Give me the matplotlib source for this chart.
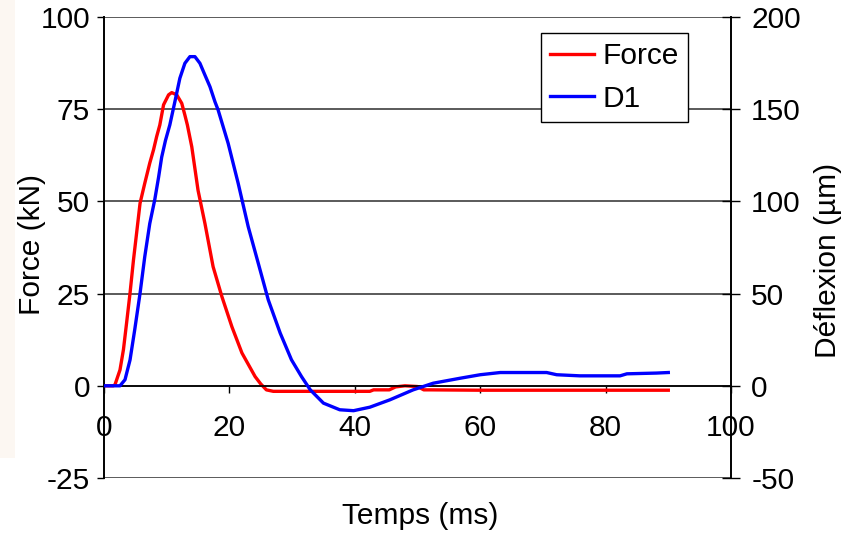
import matplotlib
matplotlib.use("Agg")
import matplotlib.pyplot as plt
from matplotlib.patches import Rectangle

plt.rcParams["font.family"] = ["Liberation Sans", "DejaVu Sans"]
plt.rcParams["axes.unicode_minus"] = False

# Force signal (kN) versus time (ms)
t_force = [0, 1.5, 1.75, 2.55, 3.1, 3.6, 4.15, 4.7, 5.2, 5.75, 6.5, 7.3, 7.9,
           8.4, 8.9, 9.5, 10.3, 10.8, 11.6, 12.4, 12.9, 13.3, 14.0, 15.0, 16.1,
           17.4, 18.8, 20.4, 22.0, 24.1, 25.0, 25.9, 27, 30, 35, 40, 42.4, 43,
           45.5, 46.5, 48, 50, 51, 52, 60, 70, 80, 90]
force = [0, 0, 0.3, 4.3, 9.8, 17, 25.1, 34.1, 41.4, 49.5, 54.9, 60.4, 64,
         67.6, 70.7, 76.2, 78.9, 79.5, 78.9, 76.6, 73.4, 70.7, 64.8, 53, 44,
         32.3, 24.2, 16, 8.9, 2.5, 0.5, -1.1, -1.5, -1.5, -1.5, -1.5, -1.5, -1.1,
         -1.1, -0.3, 0, -0.2, -1.1, -1.1, -1.2, -1.2, -1.2, -1.2]

# Deflection D1 (µm) versus time (ms)
t_defl = [0, 2.55, 3.35, 4.15, 4.9, 5.75, 6.5, 7.3, 8.1, 8.7, 9.2, 9.8, 10.5,
          11.3, 12.1, 12.9, 13.7, 14.5, 15.3, 16.1, 16.9, 17.7, 18.2, 19.8,
          21.4, 23.0, 24.6, 26.2, 28.1, 29.9, 31.5, 32.9, 35.0, 37.6, 39.8,
          42.4, 45.6, 49.3, 52.5, 56.8, 60.0, 63.2, 70.6, 72.2, 75.9, 82.3,
          83.4, 88.1, 90]
defl = [0, 0, 3.3, 14, 30.4, 50.2, 70, 88, 101, 113, 124, 133, 141.5,
        154, 166.8, 174.9, 178.5, 178.5, 174.9, 168.5, 162.2, 154, 149.6, 131.5,
        109.8, 86.3, 66.5, 46.6, 28.6, 14.1, 5, -2.2, -9.4, -13, -13.5,
        -11.6, -7.6, -2.2, 1.4, 4.1, 6, 7.2, 7.2, 6, 5.4, 5.4,
        6.5, 6.9, 7.2]

x_ticks = [0, 20, 40, 60, 80, 100]
force_ticks = [-25, 0, 25, 50, 75, 100]
defl_ticks = [-50, 0, 50, 100, 150, 200]

FS = 21.5
W, H = 859, 535
fig = plt.figure(figsize=(W / 100, H / 100), dpi=100)
fig.patches.append(Rectangle((0, 1 - 458 / H), 15 / W, 458 / H,
                             transform=fig.transFigure, facecolor="#fcf7f2",
                             edgecolor="none", zorder=0))

ax = fig.add_axes([104 / W, 1 - 478 / H, (731 - 104) / W, (478 - 17) / H])
ax.set_facecolor("none")
ax.set_xlim(0, 100)
ax.set_ylim(-25, 100)
ax.set_xticks(x_ticks)
ax.set_yticks(force_ticks)
ax.yaxis.grid(True, color="#5a5a5a", lw=1.4)
ax.set_axisbelow(True)

for s in ["top", "right"]:
    ax.spines[s].set_visible(False)
ax.spines["bottom"].set_position(("data", 0))
ax.spines["bottom"].set_linewidth(1.2)
ax.spines["left"].set_linewidth(1.4)

ax.tick_params(axis="x", direction="out", length=5, width=1, pad=15,
               labelsize=FS)
ax.tick_params(axis="y", direction="out", length=5, width=1, pad=5,
               labelsize=FS)

ln_f, = ax.plot(t_force, force, color="#ff0000", lw=2.4, label="Force")

ax2 = ax.twinx()
ax2.set_ylim(-50, 200)
ax2.set_yticks(defl_ticks)
for s in ["top", "bottom", "left"]:
    ax2.spines[s].set_visible(False)
ax2.spines["right"].set_linewidth(1.4)
ax2.tick_params(axis="y", direction="inout", length=13, width=1, pad=8,
                labelsize=FS)
ln_d, = ax2.plot(t_defl, defl, color="#0000ff", lw=2.4, label="D1")

fig.text(420 / W, 1 - 516 / H, "Temps (ms)", fontsize=FS,
         ha="center", va="center")
fig.text(32 / W, 1 - 245 / H, "Force (kN)", fontsize=FS, rotation=90,
         ha="center", va="center")
fig.text(828 / W, 1 - 260 / H, "Déflexion (µm)", fontsize=FS, rotation=90,
         ha="center", va="center")

leg = ax2.legend([ln_f, ln_d], ["Force", "D1"], loc="upper right",
                 bbox_to_anchor=(688 / W, 1 - 33 / H),
                 bbox_transform=fig.transFigure, fontsize=FS,
                 frameon=True, fancybox=False, framealpha=1,
                 edgecolor="black", borderpad=0.3, handlelength=1.47,
                 handletextpad=0.3, labelspacing=0.5, borderaxespad=0)
leg.get_frame().set_linewidth(1.0)

fig.savefig("out.png", dpi=100)
